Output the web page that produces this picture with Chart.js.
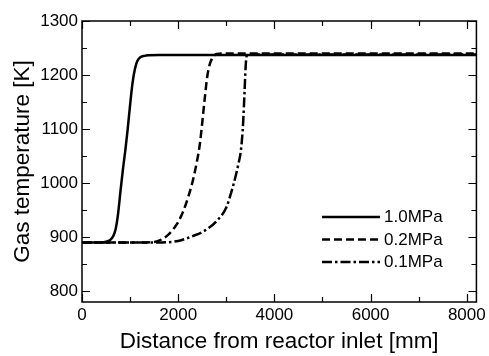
<!DOCTYPE html>
<html>
<head>
<meta charset="utf-8">
<script src="https://cdn.jsdelivr.net/npm/chart.js@4/dist/chart.umd.min.js"></script>
<style>
html,body{margin:0;padding:0;background:#fff;}
#wrap{width:489px;height:356px;position:relative;}
</style>
</head>
<body>
<div id="wrap"><canvas id="c" width="489" height="356"></canvas></div>
<script>
const seriesNames = ["1.0MPa", "0.2MPa", "0.1MPa"];

const x10 = [0, 300, 450, 550, 600, 650, 700, 750, 800, 850, 900, 950, 1000, 1050, 1100, 1150, 1200, 1300, 1400, 1600, 8200];
const y10 = [890, 890, 890.5, 893, 896, 902, 915, 943, 985, 1025, 1060, 1100, 1145, 1185, 1211, 1226, 1232, 1235.5, 1236.5, 1237, 1237];

const x02 = [0, 1200, 1500, 1700, 1800, 1900, 2000, 2100, 2200, 2300, 2400, 2450, 2500, 2550, 2600, 2650, 2700, 2750, 2800, 3000, 8200];
const y02 = [890, 890, 891, 898, 905, 915, 928, 947, 972, 1003, 1045, 1072, 1112, 1155, 1195, 1218, 1230, 1236, 1239, 1240, 1240];

const x01 = [0, 1500, 2000, 2300, 2550, 2800, 3000, 3100, 3200, 3250, 3300, 3330, 3350, 3380, 3400, 3420, 3450, 8200];
const y01 = [890, 890, 893, 902, 912, 930, 955, 982, 1015, 1035, 1058, 1085, 1112, 1170, 1212, 1234, 1238, 1238];

const xTicks = [0, 2000, 4000, 6000, 8000];
const xMinorTicks = [1000, 3000, 5000, 7000];
const yTicks = [800, 900, 1000, 1100, 1200, 1300];
const yMinorTicks = [850, 950, 1050, 1150, 1250];

const FONT = "'Liberation Sans', Arial, sans-serif";
const dashes = [[], [8, 4], [10, 3, 2.5, 3]];

function pts(xs, ys){ return xs.map((x,i)=>({x:x, y:ys[i]})); }

const frame = {
  id: 'frame',
  afterDatasetsDraw(chart){
    const ctx = chart.ctx, a = chart.chartArea;
    const xs = chart.scales.x, ys = chart.scales.y;
    ctx.save();
    ctx.strokeStyle = '#000';
    ctx.lineWidth = 1.5;
    ctx.setLineDash([]);
    ctx.strokeRect(a.left, a.top, a.right - a.left, a.bottom - a.top);
    ctx.lineWidth = 1.2;
    ctx.beginPath();
    const tx = (v, len) => { const p = Math.round(xs.getPixelForValue(v)) + 0.5;
      ctx.moveTo(p, a.bottom); ctx.lineTo(p, a.bottom - len);
      ctx.moveTo(p, a.top); ctx.lineTo(p, a.top + len); };
    const ty = (v, len) => { const p = Math.round(ys.getPixelForValue(v)) + 0.5;
      ctx.moveTo(a.left, p); ctx.lineTo(a.left + len, p);
      ctx.moveTo(a.right, p); ctx.lineTo(a.right - len, p); };
    xTicks.forEach(v => tx(v, 8));
    xMinorTicks.forEach(v => tx(v, 5));
    yTicks.forEach(v => ty(v, 8));
    yMinorTicks.forEach(v => ty(v, 5));
    ctx.stroke();

    // legend
    const rows = [217, 239.5, 262];
    ctx.lineWidth = 2.5;
    ctx.font = '17px ' + FONT;
    ctx.fillStyle = '#000';
    ctx.textBaseline = 'middle';
    ctx.textAlign = 'left';
    seriesNames.forEach((n, i) => {
      ctx.setLineDash(dashes[i]);
      ctx.beginPath();
      ctx.moveTo(322, rows[i]); ctx.lineTo(380, rows[i]);
      ctx.stroke();
      ctx.setLineDash([]);
      ctx.fillText(n, 384, rows[i] + 0.5);
    });
    ctx.restore();
  }
};

const dsCommon = {borderColor:'#000', borderWidth:2.5, pointRadius:0, fill:false, cubicInterpolationMode:'monotone'};

new Chart(document.getElementById('c'), {
  type: 'line',
  data: {
    datasets: [
      Object.assign({label: seriesNames[0], data: pts(x10, y10), borderDash: dashes[0]}, dsCommon),
      Object.assign({label: seriesNames[1], data: pts(x02, y02), borderDash: dashes[1]}, dsCommon),
      Object.assign({label: seriesNames[2], data: pts(x01, y01), borderDash: dashes[2]}, dsCommon)
    ]
  },
  options: {
    responsive: false,
    animation: false,
    events: [],
    layout: {padding: {top: 21, right: 12, left: 0, bottom: 0}},
    plugins: {legend: {display: false}, tooltip: {enabled: false}},
    scales: {
      x: {
        type: 'linear', min: 0, max: 8200,
        grid: {display: false, drawTicks: false},
        border: {display: false},
        afterBuildTicks: s => { s.ticks = xTicks.map(v => ({value: v})); },
        afterFit: s => { s.height = 54; },
        ticks: {color: '#000', font: {family: FONT, size: 17}, padding: 3, maxRotation: 0, autoSkip: false,
                callback: v => String(v)},
        title: {display: true, text: 'Distance from reactor inlet [mm]', color: '#000',
                font: {family: FONT, size: 22.5}, padding: {top: 0, bottom: 1}}
      },
      y: {
        type: 'linear', min: 780, max: 1300,
        grid: {display: false, drawTicks: false},
        border: {display: false},
        afterBuildTicks: s => { s.ticks = yTicks.map(v => ({value: v})); },
        afterFit: s => { s.width = 82; },
        ticks: {color: '#000', font: {family: FONT, size: 17}, padding: 4, autoSkip: false,
                callback: v => String(v)},
        title: {display: true, text: 'Gas temperature [K]', color: '#000',
                font: {family: FONT, size: 22.5}, padding: {top: 9.5, bottom: 0}}
      }
    }
  },
  plugins: [frame]
});
</script>
</body>
</html>
